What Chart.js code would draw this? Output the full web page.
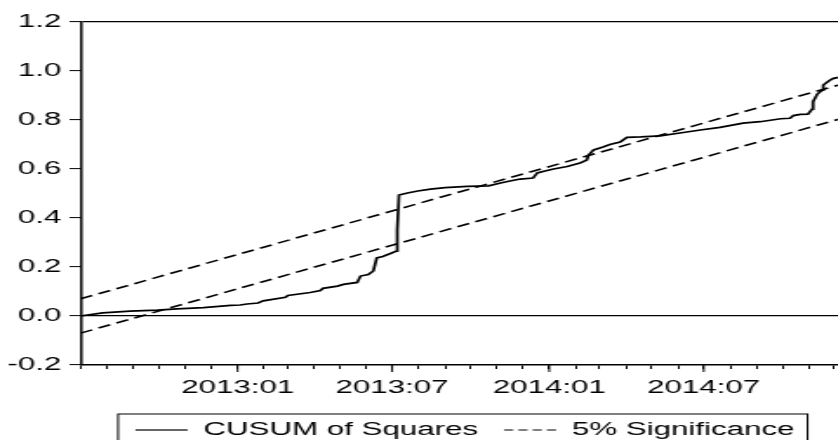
<!DOCTYPE html>
<html>
<head>
<meta charset="utf-8">
<script src="https://cdn.jsdelivr.net/npm/chart.js@4.4.1/dist/chart.umd.min.js"></script>
<style>
  html, body { margin: 0; padding: 0; background: #fff; overflow: hidden; width: 838px; height: 440px; }
</style>
</head>
<body>
<!-- the EViews picture is stretched sideways, so the canvas is drawn narrow and widened by CSS -->
<canvas id="chart" width="535" height="449" style="display:block;width:930px;height:449px"></canvas>
<script>
// x values are days counted from 2012:07:01
const cusumDays = [0, 26, 58, 90, 113, 144, 176, 187, 195, 208,
  214, 240, 243, 269, 281, 284, 301, 308, 324, 328,
  337, 343, 347, 354, 363, 370, 371, 373, 383, 395,
  410, 427, 453, 478, 492, 503, 515, 530, 535, 544,
  554, 570, 585, 593, 595, 601, 612, 620, 632, 637,
  640, 656, 679, 702, 726, 749, 776, 796, 820, 831,
  835, 843, 852, 857, 858, 863, 869, 870, 878, 882, 888];
const cusumValues = [0, 0.013, 0.020, 0.024, 0.029, 0.034, 0.043, 0.045, 0.049, 0.053,
  0.062, 0.076, 0.084, 0.096, 0.104, 0.113, 0.122, 0.129, 0.137, 0.163,
  0.169, 0.184, 0.237, 0.243, 0.255, 0.265, 0.351, 0.494, 0.502, 0.510,
  0.518, 0.524, 0.529, 0.531, 0.543, 0.551, 0.559, 0.563, 0.584, 0.592,
  0.600, 0.610, 0.624, 0.637, 0.657, 0.678, 0.690, 0.700, 0.710, 0.722,
  0.729, 0.731, 0.735, 0.747, 0.759, 0.770, 0.787, 0.793, 0.805, 0.807,
  0.818, 0.823, 0.824, 0.844, 0.875, 0.906, 0.922, 0.943, 0.963, 0.970, 0.974];

const boundDays = [0, 888];
const upperBound = [0.07, 0.943];
const lowerBound = [-0.07, 0.803];

// first day of each month
const monthDays = [0, 31, 62, 92, 123, 153, 184, 215, 243, 274, 304, 335,
  365, 396, 427, 457, 488, 518, 549, 580, 608, 639, 669, 700,
  730, 761, 792, 822, 853, 883, 914, 945, 973];
const tickLabelDays = [184, 365, 549, 730];
const tickLabels = ['2013:01', '2013:07', '2014:01', '2014:07'];

Chart.defaults.font.family = "'Liberation Sans', Arial, sans-serif";
Chart.defaults.font.size = 18;
Chart.defaults.color = '#000';

const toPoints = (xs, ys) => xs.map((x, i) => ({ x: x, y: ys[i] }));

// long ticks at labelled months + box round the legend
const frameExtras = {
  id: 'frameExtras',
  afterDraw(chart) {
    const { ctx, chartArea } = chart;
    const x = chart.scales.x;
    ctx.save();
    ctx.strokeStyle = '#000';
    ctx.lineWidth = 1;
    tickLabelDays.forEach((d) => {
      const px = x.getPixelForValue(d);
      ctx.beginPath();
      ctx.moveTo(px, chartArea.bottom);
      ctx.lineTo(px, chartArea.bottom + 7);
      ctx.stroke();
    });
    const boxes = chart.legend.legendHitBoxes;
    const first = boxes[0];
    const last = boxes[boxes.length - 1];
    const midY = first.top + first.height / 2;
    const left = first.left - 10;
    const right = last.left + last.width + 7.5;
    ctx.strokeRect(left, midY - 16, right - left, 32);
    ctx.restore();
  }
};

new Chart(document.getElementById('chart'), {
  type: 'line',
  data: {
    datasets: [
      { label: 'CUSUM of Squares', data: toPoints(cusumDays, cusumValues), borderColor: '#000', borderWidth: 1.7, pointRadius: 0, tension: 0 },
      { label: '5% Significance', data: toPoints(boundDays, upperBound), borderColor: '#000', borderWidth: 1.6, borderDash: [7.5, 4], pointRadius: 0 },
      { label: 'lower', data: toPoints(boundDays, lowerBound), borderColor: '#000', borderWidth: 1.6, borderDash: [7.5, 4], pointRadius: 0 }
    ]
  },
  options: {
    responsive: false,
    animation: false,
    devicePixelRatio: 1,
    layout: { padding: { top: 22, left: 0, right: 0, bottom: 0 } },
    plugins: {
      tooltip: { enabled: false },
      legend: {
        position: 'bottom',
        labels: {
          usePointStyle: true,
          pointStyle: 'line',
          pointStyleWidth: 30,
          padding: 15,
          color: '#000',
          filter: (item) => item.datasetIndex < 2,
          generateLabels: (chart) => Chart.defaults.plugins.legend.labels.generateLabels(chart)
            .map((item) => Object.assign(item, { lineDash: item.datasetIndex === 1 ? [5.3, 2.9] : [], lineWidth: 1.2 }))
        }
      }
    },
    scales: {
      x: {
        type: 'linear',
        min: 0,
        max: 995,
        afterBuildTicks: (scale) => { scale.ticks = monthDays.map((v) => ({ value: v })); },
        afterFit: (scale) => { scale.height = 41; },
        grid: { drawOnChartArea: false, tickLength: 4, tickColor: '#000', tickWidth: 1 },
        border: { color: '#000', width: 1.5 },
        ticks: {
          autoSkip: false,
          maxRotation: 0,
          padding: 8,
          callback: (v) => {
            const i = tickLabelDays.indexOf(v);
            return i >= 0 ? tickLabels[i] : '';
          }
        }
      },
      y: {
        min: -0.2,
        max: 1.2,
        afterFit: (scale) => { scale.width = 46.3; },
        grid: {
          color: (c) => (c.tick && (Math.abs(c.tick.value) < 1e-9 || Math.abs(c.tick.value - 1.2) < 1e-9)) ? '#000' : 'rgba(0,0,0,0)',
          lineWidth: 1.2,
          tickLength: 6.3,
          tickColor: '#000',
          tickWidth: 1
        },
        border: { color: '#000', width: 1.5 },
        ticks: { stepSize: 0.2, padding: 4.8, callback: (v) => (Math.round(v * 10) / 10).toFixed(1) }
      }
    }
  },
  plugins: [frameExtras]
});
</script>
</body>
</html>
